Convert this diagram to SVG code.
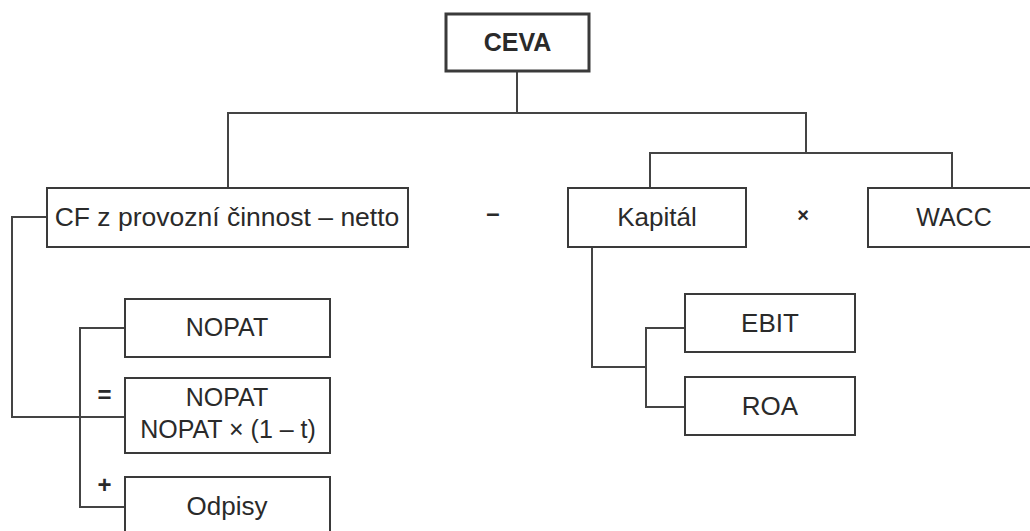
<svg xmlns="http://www.w3.org/2000/svg" width="1030" height="531" viewBox="0 0 1030 531">
<style>
.box{fill:#fff;stroke:#3a3a3a;stroke-width:2}
.bold{stroke-width:3}
.t{font-family:"Liberation Sans",Arial,sans-serif;font-size:25px;fill:#2a2a2a;text-anchor:middle}
.b{font-weight:bold}
.op{font-family:"Liberation Sans",Arial,sans-serif;font-size:24px;fill:#2a2a2a;text-anchor:middle}
.c{fill:none;stroke:#444;stroke-width:2}
</style>
<rect width="1030" height="531" fill="#fff"/>
<g id="connectors">
<path class="c" d="M517 71 V113"/>
<path class="c" d="M228 188 V113 H806 V153"/>
<path class="c" d="M650 188 V153 H952 V188"/>
<path class="c" d="M592 247 V367 H646"/>
<path class="c" d="M685 328 H646 V407 H685"/>
<path class="c" d="M47 217 H12 V417 H125"/>
<path class="c" d="M125 328 H80 V507 H125"/>
</g>
<g id="ceva"><rect class="box bold" x="446" y="14" width="143" height="57"/><text class="t b" x="517.5" y="51">CEVA</text></g>
<g id="cf"><rect class="box" x="47" y="188" width="361" height="59"/><text class="t" x="227" y="226" style="font-size:26.5px">CF z provozní činnost – netto</text></g>
<g id="kapital"><rect class="box" x="568" y="188" width="178" height="59"/><text class="t" x="657" y="226" style="font-size:26px">Kapitál</text></g>
<g id="wacc"><rect class="box" x="868" y="188" width="172" height="59"/><text class="t" x="954" y="226">WACC</text></g>
<g id="nopat"><rect class="box" x="125" y="299" width="205" height="58"/><text class="t" x="227" y="336">NOPAT</text></g>
<g id="nopat2"><rect class="box" x="125" y="378" width="205" height="75"/><text class="t" x="227" y="406">NOPAT</text><text class="t" x="228" y="438">NOPAT × (1 – t)</text></g>
<g id="odpisy"><rect class="box" x="125" y="477" width="205" height="70"/><text class="t" x="227" y="515" style="font-size:26px">Odpisy</text></g>
<g id="ebit"><rect class="box" x="685" y="294" width="170" height="58"/><text class="t" x="770" y="332" style="font-size:26px">EBIT</text></g>
<g id="roa"><rect class="box" x="685" y="377" width="170" height="58"/><text class="t" x="770" y="415" style="font-size:26px">ROA</text></g>
<g id="operators">
<text class="op b" x="493" y="221">–</text>
<text class="op b" x="803" y="222" style="font-size:20px">×</text>
<text class="op b" x="104.5" y="403">=</text>
<text class="op b" x="104.5" y="493">+</text>
</g>
</svg>
